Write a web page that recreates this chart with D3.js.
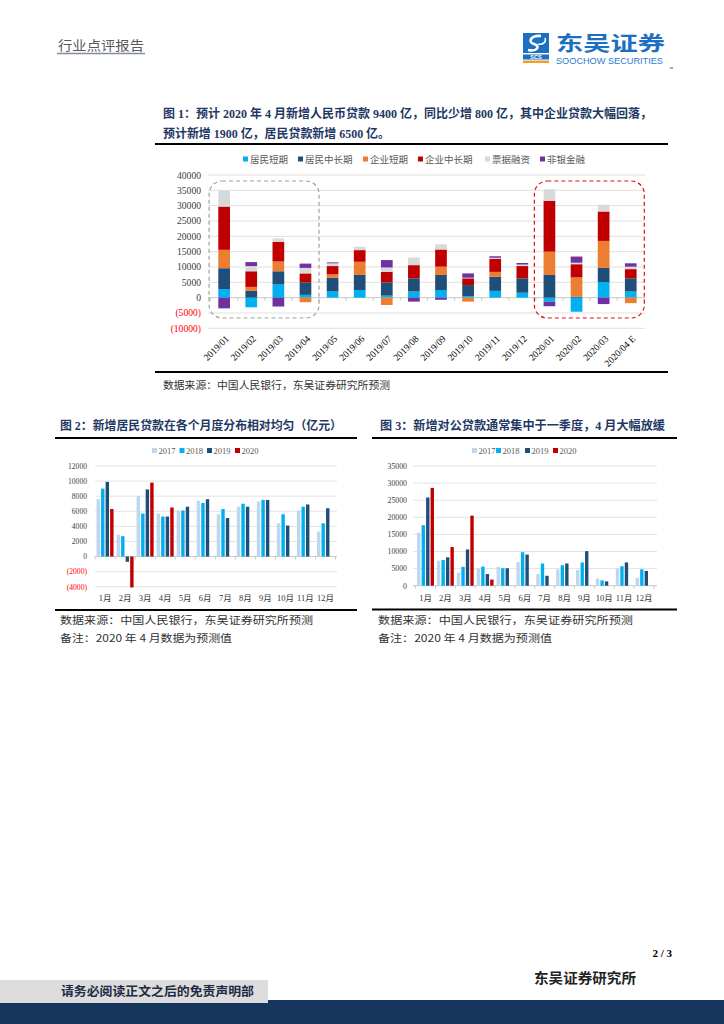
<!DOCTYPE html>
<html><head><meta charset="utf-8">
<script src="https://cdn.jsdelivr.net/npm/d3@7"></script>
<style>body{margin:0;background:#fff}svg{display:block}</style>
</head><body><svg id="c" width="724" height="1024"></svg>
<script>
// ---------- DATA ----------
const c1Categories = ["2019/01","2019/02","2019/03","2019/04","2019/05","2019/06","2019/07","2019/08","2019/09","2019/10","2019/11","2019/12","2020/01","2020/02","2020/03","2020/04 E"];
const c1SeriesNames = ["居民短期","居民中长期","企业短期","企业中长期","票据融资","非银金融"];
const hhShort   = [2800,-3150,4300, 900,2000,2500, 650,2000,2500, 500,2200,1600,-1300,-4600,5100,2000];
const hhLong    = [6800, 2200,4300,4100,4500,4900,4300,4300,4900,3600,4600,4700, 7400,  300,4600,4300];
const corpShort = [6000, 1300,3200,-1500,1100,4300,-2400,  0,2700,-1300,1600,  0, 7600, 6300,8800,-1800];
const corpLong  = [14100,5100,6400,2900,2700,3800,3500,4300,5600,2200,4200,4000,16600,4300,9600,3000];
const bills     = [5200, 1700,1100,1800, 900,1100,1400,2500,1700, 200, 400, 500, 3700,  500,2200, 800];
const nonBank   = [-3500,1300,-2900,1400, 300,   0,2400,-1300,-700,1400, 500, 500,-1500, 2000,-2100,1100];
const c1Ticks = [-10000,-5000,0,5000,10000,15000,20000,25000,30000,35000,40000];

const months = ["1月","2月","3月","4月","5月","6月","7月","8月","9月","10月","11月","12月"];
const years = ["2017","2018","2019","2020"];
const hh2017 = [7600, 2900,8000,5700,6100,7400,5600,6600,7300,4400,6100,3300];
const hh2018 = [9000, 2700,5700,5300,6100,7100,6300,7000,7500,5600,6600,4400];
const hh2019 = [9900, -700,8900,5300,6600,7600,5100,6600,7500,4100,6900,6400];
const hh2020 = [6300,-4100,9800,6500];
const c2Ticks = [-4000,-2000,0,2000,4000,6000,8000,10000,12000];

const corp2017 = [15500, 7300, 3800,5000,5500,6900,3400,4800, 4600,2100,5000,2300];
const corp2018 = [17700, 7500, 5500,5600,5100,9800,6500,6000, 6800,1550,5700,4800];
const corp2019 = [25800, 8300,10600,3400,5100,9100,2900,6500,10100,1260,6800,4300];
const corp2020 = [28600,11300,20500,1800];
const c3Ticks = [0,5000,10000,15000,20000,25000,30000,35000];

// ---------- SETUP ----------
const svg = d3.select("#c");
svg.append("rect").attr("width",724).attr("height",1024).attr("fill","#fff");
const SERIF = "'Liberation Serif','Noto Sans CJK SC',serif";
const SANS = "'Noto Sans CJK SC','Noto Sans',sans-serif";
const NAVY = "#1f3864";
const fmt = v => v < 0 ? "(" + Math.abs(v) + ")" : String(v);

function text(x, y, s, o = {}) {
  const t = svg.append("text").attr("x", x).attr("y", y).text(s)
    .attr("font-family", o.font || SERIF).attr("font-size", o.size || 10)
    .attr("fill", o.fill || "#000").attr("font-weight", o.weight || "normal")
    .attr("text-anchor", o.anchor || "start");
  if (o.len) t.attr("textLength", o.len).attr("lengthAdjust", "spacingAndGlyphs");
  return t;
}
function rule(x1, x2, y, w) {
  svg.append("line").attr("x1", x1).attr("x2", x2).attr("y1", y).attr("y2", y)
    .attr("stroke", "#000").attr("stroke-width", w || 2);
}

// ---------- HEADER ----------
text(58, 50, "行业点评报告", {font: SANS, size: 13, fill: "#595959", len: 86});
svg.append("line").attr("x1", 57).attr("x2", 145).attr("y1", 53.5).attr("y2", 53.5)
  .attr("stroke", "#7f8ea8").attr("stroke-width", 1.4);
// logo
const lg = svg.append("g");
lg.append("rect").attr("x", 523).attr("y", 33).attr("width", 26).attr("height", 20).attr("fill", "#1c6fc1");
lg.append("path").attr("d", "M541,36 C531,35 527,42 534,44 C541,46 537,52 528,50")
  .attr("fill", "none").attr("stroke", "#fff").attr("stroke-width", 2.6);
lg.append("path").attr("d", "M545,38 C547,43 541,45 538,44").attr("fill", "none").attr("stroke", "#fff").attr("stroke-width", 1.6);
lg.append("rect").attr("x", 523).attr("y", 54.5).attr("width", 26).attr("height", 5).attr("fill", "#1c6fc1");
lg.append("text").attr("x", 536).attr("y", 58.8).attr("text-anchor", "middle").attr("font-family", "Liberation Sans")
  .attr("font-weight", "bold").attr("font-size", 5.5).attr("fill", "#fff").text("SCS");
lg.append("rect").attr("x", 523).attr("y", 60.5).attr("width", 26).attr("height", 2.5).attr("fill", "#f0a030");
text(556, 51, "东吴证券", {font: SANS, size: 20, weight: "bold", fill: "#1c6fc1", len: 109});
text(556, 64, "SOOCHOW SECURITIES", {font: "'Liberation Sans'", size: 8.5, fill: "#2a7cd0", len: 107});
svg.append("line").attr("x1", 670).attr("x2", 673).attr("y1", 68).attr("y2", 68).attr("stroke", "#555");

// ---------- CHART 1 ----------
text(163, 117.5, "图 1：预计 2020 年 4 月新增人民币贷款 9400 亿，同比少增 800 亿，其中企业贷款大幅回落，",
  {size: 12.5, weight: "bold", fill: NAVY, len: 489});
text(163, 137.5, "预计新增 1900 亿，居民贷款新增 6500 亿。", {size: 12.5, weight: "bold", fill: NAVY, len: 227});
rule(155, 668, 144, 2);

const c1Colors = ["#00b0f0","#1f4e79","#ed7d31","#c00000","#d9d9d9","#7030a0"];
const c1Keys = ["hhShort","hhLong","corpShort","corpLong","bills","nonBank"];
const c1Data = c1Categories.map((c, i) => ({cat: c, hhShort: hhShort[i], hhLong: hhLong[i], corpShort: corpShort[i],
  corpLong: corpLong[i], bills: bills[i], nonBank: nonBank[i]}));
const x1 = d3.scaleBand().domain(c1Categories).range([210.6, 644.3]);
const y1 = d3.scaleLinear().domain([-10000, 40000]).range([328.3, 175]);
const g1 = svg.append("g");
// gridlines
g1.selectAll("line.grid").data(c1Ticks).join("line")
  .attr("x1", 208).attr("x2", 645).attr("y1", d => y1(d)).attr("y2", d => y1(d))
  .attr("stroke", d => d === 0 ? "#c8c8c8" : "#e0e0e0").attr("stroke-width", 1);
// y labels
g1.selectAll("text.yl").data(c1Ticks).join("text")
  .attr("x", 201).attr("y", d => y1(d) + 3.5).attr("text-anchor", "end")
  .attr("font-family", SERIF).attr("font-size", 9.6)
  .attr("fill", d => d < 0 ? "#ff0000" : "#404040").text(fmt);
// zero ticks
g1.selectAll("line.tk").data(c1Categories.concat(["_end"])).join("line")
  .attr("x1", (d, i) => x1.range()[0] + i * x1.step()).attr("x2", (d, i) => x1.range()[0] + i * x1.step())
  .attr("y1", y1(0)).attr("y2", y1(0) + 3).attr("stroke", "#c8c8c8");
// stacked bars
const stacked = d3.stack().keys(c1Keys).offset(d3.stackOffsetDiverging)(c1Data);
const bw1 = 11.7;
g1.selectAll("g.ser").data(stacked).join("g").attr("fill", (d, i) => c1Colors[i])
  .selectAll("rect").data(d => d).join("rect")
  .attr("x", d => x1(d.data.cat) + (x1.bandwidth() - bw1) / 2).attr("width", bw1)
  .attr("y", d => y1(Math.max(d[0], d[1]))).attr("height", d => Math.abs(y1(d[0]) - y1(d[1])));
// x labels
g1.selectAll("text.xl").data(c1Categories).join("text")
  .attr("transform", d => `translate(${x1(d) + x1.bandwidth() / 2 + 3},${337}) rotate(-45)`)
  .attr("text-anchor", "end").attr("dy", "0.35em").attr("font-family", SERIF).attr("font-size", 9.5)
  .attr("fill", "#000").text(d => d);
// legend
const legX1 = [243, 298, 363, 418, 485, 540];
c1SeriesNames.forEach((n, i) => {
  g1.append("rect").attr("x", legX1[i]).attr("y", 156.5).attr("width", 5).attr("height", 5).attr("fill", c1Colors[i]);
  g1.append("text").attr("x", legX1[i] + 7).attr("y", 162.5).attr("font-family", SANS).attr("font-size", 9.5)
    .attr("fill", "#595959").text(n);
});
// dashed highlight boxes
function dashBox(a, b, color) {
  const xa = x1(a) - 1.5, xb = x1(b) + x1.bandwidth();
  g1.append("rect").attr("x", xa).attr("y", 181).attr("width", xb - xa).attr("height", 137)
    .attr("rx", 13).attr("fill", "none").attr("stroke", color).attr("stroke-width", 1.2).attr("stroke-dasharray", "4,3");
}
dashBox("2019/01", "2019/04", "#a0a0a0");
dashBox("2020/01", "2020/04 E", "#e01010");
rule(155, 668, 372, 2);
text(163, 388.5, "数据来源：中国人民银行，东吴证券研究所预测", {font: SANS, size: 10.5, fill: "#333", len: 227});

// ---------- GROUPED CHART HELPER ----------
const yrColors = ["#bdd7ee","#00b0f0","#1f4e79","#c00000"];
function grouped(cfg) {
  const g = svg.append("g");
  const x = d3.scaleBand().domain(months).range(cfg.xr);
  const xi = d3.scaleBand().domain(years).range([1.5, x.bandwidth() - 1.5]).paddingInner(0.25);
  const y = d3.scaleLinear().domain(cfg.dom).range(cfg.yr);
  g.selectAll("line.grid").data(cfg.ticks).join("line")
    .attr("x1", cfg.gx[0]).attr("x2", cfg.gx[1]).attr("y1", d => y(d)).attr("y2", d => y(d))
    .attr("stroke", d => d === 0 ? "#c8c8c8" : "#e3e3e3");
  g.selectAll("line.tk").data(months.concat(["_"])).join("line")
    .attr("x1", (d, i) => x.range()[0] + i * x.step()).attr("x2", (d, i) => x.range()[0] + i * x.step())
    .attr("y1", y(0)).attr("y2", y(0) + 3).attr("stroke", "#c8c8c8");
  g.selectAll("text.yl").data(cfg.ticks).join("text")
    .attr("x", cfg.labX).attr("y", d => y(d) + 2.8).attr("text-anchor", "end")
    .attr("font-family", SERIF).attr("font-size", cfg.ySize)
    .attr("fill", d => d < 0 ? "#ff0000" : "#404040").text(fmt);
  cfg.series.forEach((vals, si) => {
    g.append("g").attr("fill", yrColors[si]).selectAll("rect").data(vals).join("rect")
      .attr("x", (d, i) => x(months[i]) + xi(years[si])).attr("width", xi.bandwidth())
      .attr("y", d => y(Math.max(0, d))).attr("height", d => Math.abs(y(d) - y(0)));
  });
  g.selectAll("text.xl").data(months).join("text")
    .attr("x", d => x(d) + x.bandwidth() / 2).attr("y", 601).attr("text-anchor", "middle")
    .attr("font-family", SERIF).attr("font-size", 8.5).attr("fill", "#333").text(d => d);
  cfg.legX.forEach((lx, i) => {
    g.append("rect").attr("x", lx).attr("y", 448).attr("width", 5).attr("height", 5).attr("fill", yrColors[i]);
    g.append("text").attr("x", lx + 6.5).attr("y", 453.5).attr("font-family", SERIF).attr("font-size", 8.5)
      .attr("fill", "#595959").text(years[i]);
  });
}

// ---------- CHART 2 ----------
text(60, 429.5, "图 2：新增居民贷款在各个月度分布相对均匀（亿元）", {size: 12, weight: "bold", fill: NAVY, len: 282});
rule(55, 357, 438, 1.8);
grouped({xr: [95, 335.5], gx: [95, 337], dom: [-4000, 12000], yr: [586.7, 466], ticks: c2Ticks,
  labX: 87, ySize: 7.6, series: [hh2017, hh2018, hh2019, hh2020], legX: [152, 179.5, 207, 235]});
rule(55, 357, 610, 1.8);
text(60, 624, "数据来源：中国人民银行，东吴证券研究所预测", {font: SANS, size: 10.5, fill: "#333", len: 253});
text(60, 642, "备注：2020 年 4 月数据为预测值", {font: SANS, size: 10.5, fill: "#333", len: 172});

// ---------- CHART 3 ----------
text(380, 429.5, "图 3：新增对公贷款通常集中于一季度，4 月大幅放缓", {size: 12, weight: "bold", fill: NAVY, len: 285});
rule(372, 677, 438, 1.8);
grouped({xr: [415.6, 654], gx: [413, 657], dom: [0, 35000], yr: [585.7, 466], ticks: c3Ticks,
  labX: 407, ySize: 7.8, series: [corp2017, corp2018, corp2019, corp2020], legX: [472, 496, 525, 553]});
rule(372, 677, 609.5, 1.8);
text(378, 624, "数据来源：中国人民银行，东吴证券研究所预测", {font: SANS, size: 10.5, fill: "#333", len: 255});
text(378, 642, "备注：2020 年 4 月数据为预测值", {font: SANS, size: 10.5, fill: "#333", len: 174});

// ---------- FOOTER ----------
text(672, 957, "2 / 3", {size: 11, weight: "bold", anchor: "end"});
text(534, 983, "东吴证券研究所", {font: SANS, size: 14, weight: "bold", fill: "#222", len: 102});
svg.append("rect").attr("x", 0).attr("y", 1000).attr("width", 724).attr("height", 24).attr("fill", "#17365d");
svg.append("rect").attr("x", 0).attr("y", 980).attr("width", 268).attr("height", 23).attr("fill", "#dcdcdc");
text(61, 996, "请务必阅读正文之后的免责声明部", {font: SANS, size: 12.5, weight: "bold", fill: "#1f2a44", len: 193});
</script></body></html>
